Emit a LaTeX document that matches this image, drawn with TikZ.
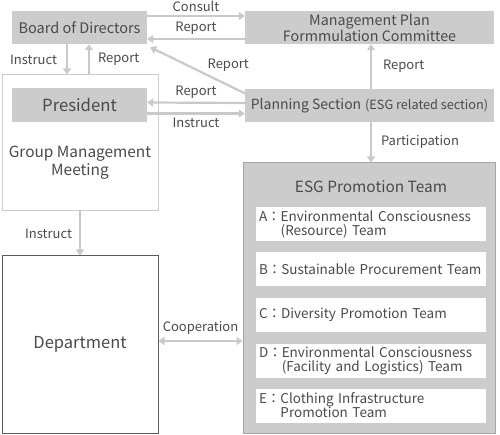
\documentclass[tikz,border=0pt]{standalone}
\usepackage{fontspec}
\setmainfont{Noto Sans CJK JP}
\usepackage{xcolor}
\usetikzlibrary{arrows.meta}

\definecolor{boxgray}{HTML}{CCCCCC}
\definecolor{linegray}{HTML}{C9C9C9}
\definecolor{rimgray}{HTML}{A6A6A6}
\definecolor{txtgray}{HTML}{4A4A4A}
\definecolor{deptgray}{HTML}{5A5A5A}

\tikzset{
  graybox/.style={fill=boxgray, inner sep=0pt, text=txtgray},
  lbl/.style={text=txtgray, font=\fontsize{13}{15}\selectfont, inner sep=1pt},
  conn/.style={draw=linegray, line width=2.2pt, -{Triangle[width=8pt,length=6pt]}},
  teambox/.style={fill=white, minimum width=230pt, minimum height=34pt,
    text width=224pt, inner xsep=3pt, inner ysep=0pt, align=left, text=txtgray,
    font=\fontsize{13.5}{14}\selectfont}
}

\begin{document}
\begin{tikzpicture}[x=1pt,y=-1pt]
    \useasboundingbox (0,0) rectangle (500,435);

    % ===== Top row: board and committee =====
    \node[graybox, minimum width=135pt, minimum height=33pt,
      font=\fontsize{14.5}{16}\selectfont] (board) at (79.5,27.5) {Board of Directors};
    \node[graybox, minimum width=249pt, minimum height=33pt, align=center,
      font=\fontsize{14.3}{14.5}\selectfont] (mpfc) at (369.5,27.5)
      {Management Plan\\Formmulation Committee};

    % ===== Left: group management meeting with president =====
    \node[draw=boxgray, line width=1pt, fill=white, minimum width=156pt,
      minimum height=136pt] (gmm) at (80,143) {};
    \node[graybox, minimum width=135pt, minimum height=34pt,
      font=\fontsize{16.7}{18}\selectfont] (pres) at (79.5,105) {President};
    \node[text=txtgray, align=center, font=\fontsize{15.4}{18}\selectfont]
      (gmmtxt) at (80,163) {Group Management\\Meeting};

    % ===== Right: planning section =====
    \node[graybox, minimum width=249pt, minimum height=33pt] (plan) at (369.5,105.5)
      {{\fontsize{14}{16}\selectfont Planning Section}\,
       {\fontsize{12.7}{14}\selectfont(ESG related section)}};

    % ===== Department =====
    \node[draw=deptgray, line width=1pt, fill=white, minimum width=156pt,
      minimum height=177pt, text=txtgray, font=\fontsize{16.5}{18}\selectfont]
      (dept) at (80,344.5) {Department};

    % ===== ESG promotion team =====
    \node[draw=rimgray, line width=1pt, fill=boxgray, minimum width=252pt,
      minimum height=270pt] (esg) at (369,298) {};
    \node[text=txtgray, font=\fontsize{15.4}{17}\selectfont] (esgtitle) at (371,187)
      {ESG Promotion Team};
    \foreach \n/\yc/\txt in {
        teamA/224/{A：Environmental Consciousness\\\phantom{A：}(Resource) Team},
        teamB/269.5/{B：Sustainable Procurement Team},
        teamC/315/{C：Diversity Promotion Team},
        teamD/360.5/{D：Environmental Consciousness\\\phantom{D：}(Facility and Logistics) Team},
        teamE/405.5/{E：Clothing Infrastructure\\\phantom{E：}Promotion Team}} {
        \node[teambox] (\n) at (371,\yc) {\txt};
    }

    % ===== Connectors =====
    \draw[conn] ([yshift=11.5pt]board.east) -- ([yshift=11.5pt]mpfc.west)
      node[lbl, midway, above=2pt] (consult) {Consult};
    \draw[conn] ([yshift=-11.5pt]mpfc.west) -- ([yshift=-11.5pt]board.east)
      node[lbl, midway, above=2pt] (rep1) {Report};
    \draw[conn] ([xshift=-12.5pt]board.south) -- ([xshift=-13pt]gmm.north)
      node[lbl, midway, left=8pt] (ins1) {Instruct};
    \draw[conn] ([xshift=9pt]gmm.north) -- ([xshift=9.5pt]board.south)
      node[lbl, midway, right=7pt] (rep2) {Report};
    \draw[conn] ([xshift=3pt,yshift=-6pt]plan.north west) -- ([xshift=3pt,yshift=-3pt]board.south east)
      node[lbl, pos=0.2, yshift=20pt] (rep3) {Report};
    \draw[conn] ([yshift=2.5pt]plan.west) -- ([yshift=2.5pt]pres.east)
      node[lbl, midway, above=2pt] (rep4) {Report};
    \draw[conn] ([yshift=-8.5pt]pres.east) -- ([yshift=-8pt]plan.west)
      node[lbl, midway, below=2pt] (ins2) {Instruct};
    \draw[conn] ([xshift=1.5pt]plan.north) -- ([xshift=1.5pt]mpfc.south)
      node[lbl, midway, right=10pt] (rep5) {Report};
    \draw[conn] ([xshift=1.5pt]plan.south) -- ([xshift=2pt]esg.north)
      node[lbl, midway, right=8pt] (part) {Participation};
    \draw[conn] (gmm.south) -- (dept.north)
      node[lbl, midway, left=6pt] (ins3) {Instruct};
    \draw[conn, {Triangle[width=8pt,length=6pt]}-{Triangle[width=8pt,length=6pt]}]
      ([yshift=3.5pt]dept.east) -- ([yshift=3.5pt]dept.east -| esg.west)
      node[lbl, midway, above=4pt] (coop) {Cooperation};
\end{tikzpicture}
\end{document}
